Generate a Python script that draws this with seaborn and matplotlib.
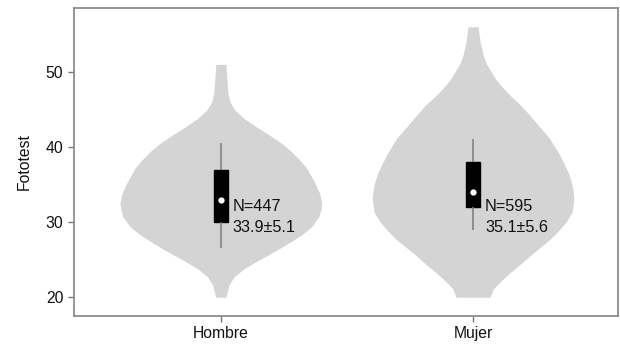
import numpy as np
import pandas as pd
import matplotlib
matplotlib.use("Agg")
import matplotlib.pyplot as plt
import seaborn as sns

# Groups
categories = ["Hombre", "Mujer"]

# Violin outlines: score levels and relative density (1 = widest point)
levels_hombre = [20.0, 20.5, 21.6, 22.7, 23.8, 24.9, 26.0, 27.2, 28.3, 29.4, 30.7, 31.6,
                 32.5, 33.8, 35.0, 36.0, 37.2, 38.3, 39.4, 40.5, 41.6, 42.7, 43.8,
                 44.9, 46.0, 47.2, 49.0, 51.0]
density_hombre = [0.05, 0.06, 0.08, 0.13, 0.23, 0.37, 0.52, 0.67, 0.80, 0.90, 0.97, 0.99,
                  1.00, 0.98, 0.94, 0.90, 0.85, 0.78, 0.70, 0.60, 0.48, 0.35, 0.23,
                  0.14, 0.09, 0.07, 0.06, 0.05]

levels_mujer = [20.0, 21.1, 22.2, 23.3, 24.4, 25.6, 26.7, 27.8, 28.9, 30.0, 31.3, 33.1,
                34.4, 35.5, 36.7, 37.8, 38.9, 40.0, 41.1, 42.2, 43.3, 44.4, 45.6,
                46.7, 47.8, 48.9, 50.0, 51.1, 52.2, 54.0, 56.0]
density_mujer = [0.17, 0.20, 0.28, 0.37, 0.47, 0.57, 0.67, 0.77, 0.85, 0.92, 0.98, 1.00,
                 0.99, 0.97, 0.94, 0.90, 0.86, 0.81, 0.76, 0.69, 0.62, 0.55, 0.47,
                 0.38, 0.30, 0.23, 0.18, 0.13, 0.10, 0.07, 0.05]

# Box summaries: lower whisker, Q1, median, Q3, upper whisker
five_hombre = [26.5, 30.0, 33.0, 37.0, 40.5]
five_mujer = [29.0, 32.0, 34.0, 38.0, 41.0]
medians = [33.0, 34.0]

# Annotations
counts = [447, 595]
means = [33.9, 35.1]
sds = [5.1, 5.6]

sns.set_theme(style="ticks")
plt.rcParams["font.family"] = ["Liberation Sans", "DejaVu Sans"]

fig = plt.figure(figsize=(6.2, 3.44), dpi=100)
ax = fig.add_axes([0.119, 0.0814, 0.878, 0.8953])

box_df = pd.DataFrame({
    "grupo": ["Hombre"] * 5 + ["Mujer"] * 5,
    "Fototest": five_hombre + five_mujer,
})

# Violin bodies
max_half = 0.40
for i, (lv, dn) in enumerate([(levels_hombre, density_hombre),
                              (levels_mujer, density_mujer)]):
    lv = np.asarray(lv)
    hw = np.asarray(dn) * max_half
    ax.fill_betweenx(lv, i - hw, i + hw, color="#d4d4d4", lw=0, zorder=1)

sns.boxplot(data=box_df, x="grupo", y="Fototest", order=categories, ax=ax,
            width=0.055, color="black", linecolor="black", showcaps=False,
            fliersize=0, linewidth=1,
            whiskerprops=dict(color="#7a7a7a", linewidth=1.1),
            boxprops=dict(facecolor="black", edgecolor="black", zorder=3),
            medianprops=dict(color="black"), zorder=3)

sns.stripplot(x=categories, y=medians, order=categories, ax=ax, jitter=False,
              color="white", size=4.5, linewidth=0, zorder=5)

for i, (n, m, s) in enumerate(zip(counts, means, sds)):
    ax.text(i + 0.047, 32.05, f"N={n}", ha="left", va="center", fontsize=11.7,
            color="#111111", zorder=6)
    ax.text(i + 0.047, 29.3, f"{m:.1f}\u00b1{s:.1f}", ha="left", va="center",
            fontsize=11.7, color="#111111", zorder=6)

ax.set_xlim(-0.583, 1.575)
ax.set_ylim(17.5, 58.5)
ax.set_yticks([20, 30, 40, 50])
ax.set_xlabel("")
ax.set_ylabel("Fototest", fontsize=11.3, color="#111111", labelpad=10)
ax.tick_params(axis="both", labelsize=11.3, colors="#111111", length=4,
               width=1, color="#777777")
for sp in ax.spines.values():
    sp.set_visible(True)
    sp.set_color("#8c8c8c")
    sp.set_linewidth(1.3)

fig.savefig("out.png", dpi=100)
